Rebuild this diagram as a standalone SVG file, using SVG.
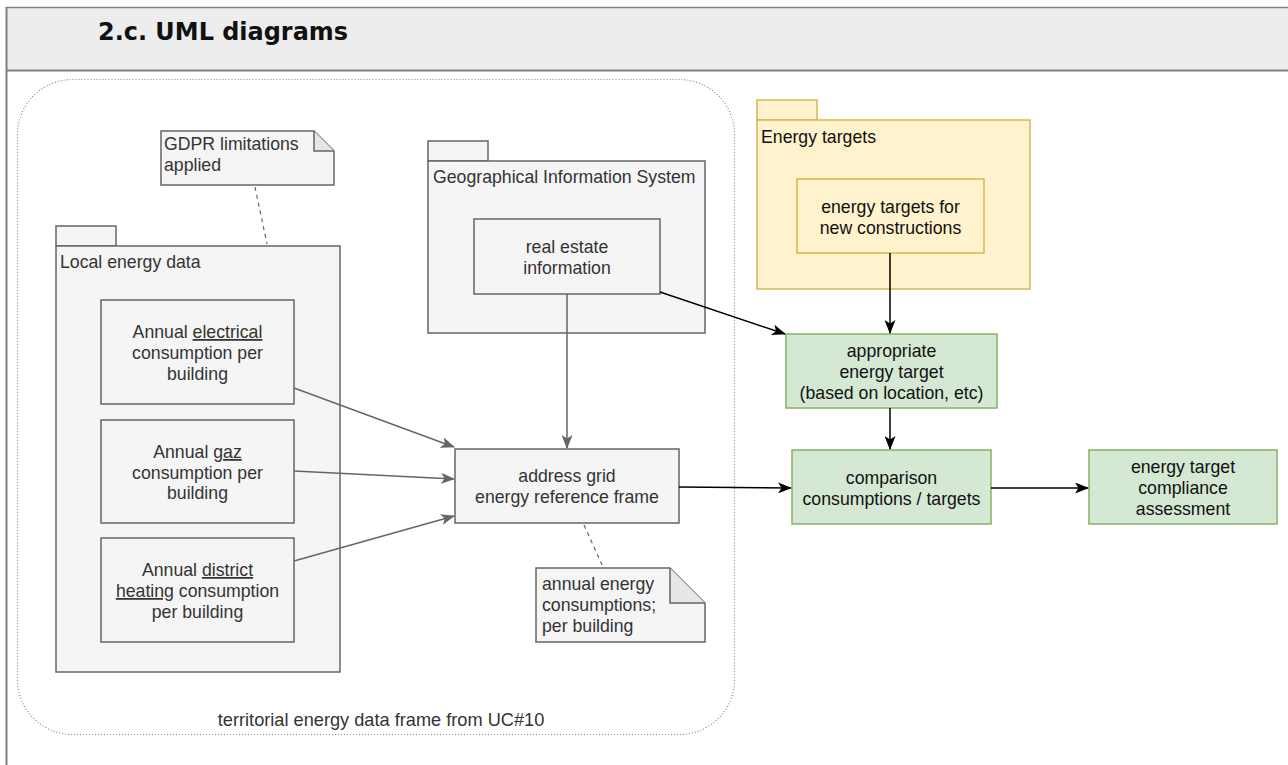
<svg xmlns="http://www.w3.org/2000/svg" width="1288" height="765" viewBox="0 0 1288 765">
<defs>
<style>
.t{font-family:"Liberation Sans",Arial,sans-serif;font-size:17.7px;fill:#333;}
.tb{font-family:"Liberation Sans",Arial,sans-serif;font-size:17.7px;fill:#111;}
.g{fill:#f5f5f5;stroke:#666;stroke-width:1.5;}
.y{fill:#fff2cc;stroke:#d6b656;stroke-width:1.5;}
.gr{fill:#d5e8d4;stroke:#82b366;stroke-width:1.5;}
.ga{stroke:#666;stroke-width:1.5;fill:none;}
.ba{stroke:#000;stroke-width:1.5;fill:none;}
.dash{stroke:#666;stroke-width:1.2;stroke-dasharray:4 4;fill:none;}
</style>
<marker id="ag" markerWidth="14" markerHeight="11" refX="13" refY="5.5" orient="auto" markerUnits="userSpaceOnUse"><path d="M0,0 L14,5.5 L0,11 L3.5,5.5 Z" fill="#666"/></marker>
<marker id="ab" markerWidth="14" markerHeight="11" refX="13" refY="5.5" orient="auto" markerUnits="userSpaceOnUse"><path d="M0,0 L14,5.5 L0,11 L3.5,5.5 Z" fill="#000"/></marker>
</defs>
<rect width="1288" height="765" fill="#fff"/>
<g id="header">
<rect x="6" y="7" width="1290" height="63" fill="#ededed"/>
<line x1="6" y1="7.5" x2="1288" y2="7.5" stroke="#808080" stroke-width="1.5"/>
<line x1="6" y1="70.5" x2="1288" y2="70.5" stroke="#808080" stroke-width="2"/>
<line x1="6.5" y1="7" x2="6.5" y2="765" stroke="#808080" stroke-width="2"/>
<text x="98" y="40" font-family="'DejaVu Sans',Verdana,sans-serif" font-weight="bold" font-size="24" fill="#111" textLength="250" lengthAdjust="spacingAndGlyphs">2.c. UML diagrams</text>
</g>
<g id="frame">
<rect x="17.5" y="79.5" width="717" height="655" rx="55" ry="55" fill="none" stroke="#888" stroke-width="1.2" stroke-dasharray="1 2"/>
<text class="t" x="381" y="726" text-anchor="middle" style="font-size:18.2px">territorial energy data frame from UC#10</text>
</g>
<g id="gdpr-note">
<path class="g" d="M161,131 H314 L334,151 V185 H161 Z"/>
<path d="M314,131 V151 H334" fill="#e6e6e6" stroke="#666" stroke-width="1.5"/>
<text class="t" x="164" y="150">GDPR limitations</text>
<text class="t" x="164" y="171">applied</text>
</g>
<g id="local-energy-data">
<rect class="g" x="56" y="226" width="60" height="20"/>
<rect class="g" x="56" y="246" width="284" height="426"/>
<text class="t" x="60" y="268">Local energy data</text>
</g>
<g id="electrical">
<rect class="g" x="101" y="300" width="193" height="104"/>
<text class="t" text-anchor="middle"><tspan x="197.5" y="338">Annual <tspan text-decoration="underline">electrical</tspan></tspan><tspan x="197.5" y="359">consumption per</tspan><tspan x="197.5" y="380">building</tspan></text>
</g>
<g id="gaz">
<rect class="g" x="101" y="420" width="193" height="103"/>
<text class="t" text-anchor="middle"><tspan x="197.5" y="458">Annual g<tspan text-decoration="underline">az</tspan></tspan><tspan x="197.5" y="479">consumption per</tspan><tspan x="197.5" y="499">building</tspan></text>
</g>
<g id="district">
<rect class="g" x="101" y="538" width="193" height="104"/>
<text class="t" text-anchor="middle"><tspan x="197.5" y="576">Annual <tspan text-decoration="underline">district</tspan></tspan><tspan x="197.5" y="597"><tspan text-decoration="underline">heating</tspan> consumption</tspan><tspan x="197.5" y="618">per building</tspan></text>
</g>
<g id="gis">
<rect class="g" x="428" y="141" width="60" height="20"/>
<rect class="g" x="428" y="161" width="277" height="172"/>
<text class="t" x="433" y="183">Geographical Information System</text>
</g>
<g id="real-estate">
<rect class="g" x="474" y="219" width="186" height="75"/>
<text class="t" text-anchor="middle"><tspan x="567" y="253">real estate</tspan><tspan x="567" y="274">information</tspan></text>
</g>
<g id="address-grid">
<rect class="g" x="455" y="449" width="224" height="74"/>
<text class="t" text-anchor="middle"><tspan x="567" y="482">address grid</tspan><tspan x="567" y="503">energy reference frame</tspan></text>
</g>
<g id="annual-note">
<path class="g" d="M536,568 H670 L705,603 V642 H536 Z"/>
<path d="M670,568 V603 H705" fill="#e6e6e6" stroke="#666" stroke-width="1.5"/>
<text class="t" x="542" y="590">annual energy</text>
<text class="t" x="542" y="611">consumptions;</text>
<text class="t" x="542" y="632">per building</text>
</g>
<g id="energy-targets">
<rect class="y" x="757" y="100" width="60" height="20"/>
<rect class="y" x="757" y="120" width="273" height="169"/>
<text class="tb" x="761" y="143">Energy targets</text>
</g>
<g id="targets-new">
<rect class="y" x="797" y="179" width="187" height="74"/>
<text class="tb" text-anchor="middle"><tspan x="890.5" y="213">energy targets for</tspan><tspan x="890.5" y="234">new constructions</tspan></text>
</g>
<g id="appropriate">
<rect class="gr" x="786" y="334" width="211" height="74"/>
<text class="tb" text-anchor="middle"><tspan x="891.5" y="357">appropriate</tspan><tspan x="891.5" y="378">energy target</tspan><tspan x="891.5" y="399">(based on location, etc)</tspan></text>
</g>
<g id="comparison">
<rect class="gr" x="792" y="450" width="199" height="74"/>
<text class="tb" text-anchor="middle"><tspan x="891.5" y="484">comparison</tspan><tspan x="891.5" y="505">consumptions / targets</tspan></text>
</g>
<g id="compliance">
<rect class="gr" x="1089" y="450" width="188" height="74"/>
<text class="tb" text-anchor="middle"><tspan x="1183" y="473">energy target</tspan><tspan x="1183" y="494">compliance</tspan><tspan x="1183" y="515">assessment</tspan></text>
</g>
<g id="connectors">
<line class="dash" x1="255" y1="187" x2="267" y2="244"/>
<line class="dash" x1="584" y1="525" x2="603" y2="567"/>
<line class="ga" x1="294" y1="388" x2="454" y2="447" marker-end="url(#ag)"/>
<line class="ga" x1="294" y1="471" x2="454" y2="479" marker-end="url(#ag)"/>
<line class="ga" x1="294" y1="561" x2="454" y2="516" marker-end="url(#ag)"/>
<line class="ga" x1="567" y1="294" x2="567" y2="448" marker-end="url(#ag)"/>
<line class="ba" x1="660" y1="292" x2="785" y2="334" marker-end="url(#ab)"/>
<line class="ba" x1="890" y1="253" x2="890" y2="333" marker-end="url(#ab)"/>
<line class="ba" x1="890" y1="408" x2="890" y2="449" marker-end="url(#ab)"/>
<line class="ba" x1="679" y1="487" x2="791" y2="488" marker-end="url(#ab)"/>
<line class="ba" x1="991" y1="488" x2="1088" y2="488" marker-end="url(#ab)"/>
</g>
</svg>
